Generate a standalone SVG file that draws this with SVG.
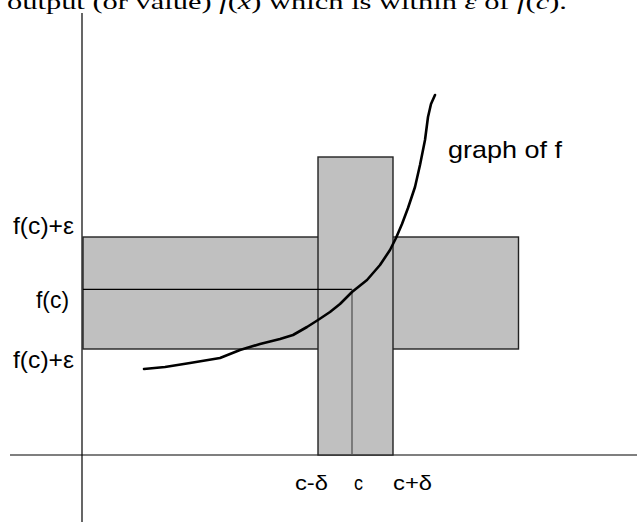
<svg xmlns="http://www.w3.org/2000/svg" width="637" height="522" viewBox="0 0 637 522">
  <style>
    .box { fill: #c0c0c0; stroke: #222; stroke-width: 1.4; }
    .lbl { font-family: "Liberation Sans", Arial, sans-serif; font-size: 24px; fill: #000; }
    .xl { font-size: 21px; }
    .axis { stroke: #000; stroke-width: 1.2; fill: none; }
    .curve { fill: none; stroke: #000; stroke-width: 2.6; stroke-linejoin: round; stroke-linecap: round; }
  </style>
  <rect width="637" height="522" fill="#fff"/>
  <g id="caption">
    <text x="7" y="8.5" font-family="'Liberation Serif', 'Times New Roman', serif" font-size="22" textLength="560" lengthAdjust="spacingAndGlyphs">output (or value) <tspan font-style="italic">f</tspan>(<tspan font-style="italic">x</tspan>) which is within <tspan font-style="italic">ε</tspan> of <tspan font-style="italic">f</tspan>(<tspan font-style="italic">c</tspan>).</text>
  </g>
  <g id="connectors">
    <line class="axis" x1="82" y1="13" x2="82" y2="522"/>
    <line class="axis" x1="10" y1="455" x2="637" y2="455" stroke="#333"/>
  </g>
  <g id="epsilon-band">
    <rect class="box" x="83" y="237" width="435.5" height="112"/>
  </g>
  <g id="delta-band">
    <rect class="box" x="318" y="157" width="75" height="298"/>
  </g>
  <g id="guides">
    <line x1="83" y1="289.3" x2="352" y2="289.3" stroke="#000" stroke-width="1.3"/>
    <line x1="352" y1="289.3" x2="352" y2="455" stroke="#555" stroke-width="1.3"/>
  </g>
  <g id="graph-of-f">
    <polyline class="curve" points="144,369 165,367 190,363 220,358 240,350 260,344 280,339 293,335 307,327 318,320 330,312 340,304 352,292 367,280 380,265 390,250 396,238 402,224 408,208 415,187 420,165 425,140 428,117 431,104 435,95"/>
    <text class="lbl" x="448" y="158" textLength="114" lengthAdjust="spacingAndGlyphs">graph of f</text>
  </g>
  <g id="y-labels">
    <text class="lbl" x="13" y="234" textLength="61" lengthAdjust="spacingAndGlyphs">f(c)+ε</text>
    <text class="lbl" x="36" y="308" textLength="33" lengthAdjust="spacingAndGlyphs">f(c)</text>
    <text class="lbl" x="13" y="368" textLength="61" lengthAdjust="spacingAndGlyphs">f(c)+ε</text>
  </g>
  <g id="x-labels">
    <text class="lbl xl" x="295" y="490" textLength="33" lengthAdjust="spacingAndGlyphs">c-δ</text>
    <text class="lbl xl" x="354" y="490" textLength="9" lengthAdjust="spacingAndGlyphs">c</text>
    <text class="lbl xl" x="393" y="490" textLength="39" lengthAdjust="spacingAndGlyphs">c+δ</text>
  </g>
</svg>
